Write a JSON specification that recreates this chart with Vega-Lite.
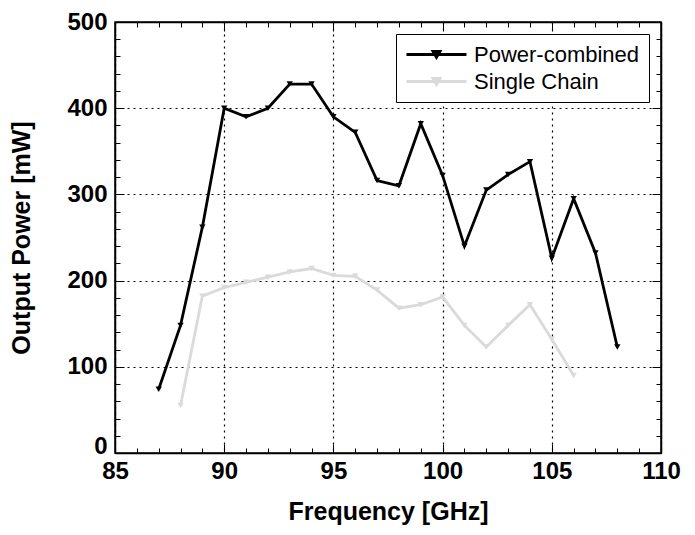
{
  "$schema": "https://vega.github.io/schema/vega-lite/v6.json",
  "width": 546,
  "height": 431,
  "autosize": {"type": "none"},
  "padding": {"left": 115, "top": 22, "right": 34, "bottom": 82},
  "background": "white",
  "config": {
    "view": {"stroke": "black", "strokeWidth": 1.5},
    "font": "Liberation Sans",
    "axis": {"labelFont": "Liberation Sans", "titleFont": "Liberation Sans"}
  },
  "data": {
    "values": [
      {"f": 87, "p": 74, "s": "Power-combined"},
      {"f": 88, "p": 148, "s": "Power-combined"},
      {"f": 89, "p": 262, "s": "Power-combined"},
      {"f": 90, "p": 400, "s": "Power-combined"},
      {"f": 91, "p": 390, "s": "Power-combined"},
      {"f": 92, "p": 400, "s": "Power-combined"},
      {"f": 93, "p": 428, "s": "Power-combined"},
      {"f": 94, "p": 428, "s": "Power-combined"},
      {"f": 95, "p": 390, "s": "Power-combined"},
      {"f": 96, "p": 372, "s": "Power-combined"},
      {"f": 97, "p": 316, "s": "Power-combined"},
      {"f": 98, "p": 310, "s": "Power-combined"},
      {"f": 99, "p": 382, "s": "Power-combined"},
      {"f": 100, "p": 322, "s": "Power-combined"},
      {"f": 101, "p": 240, "s": "Power-combined"},
      {"f": 102, "p": 305, "s": "Power-combined"},
      {"f": 103, "p": 323, "s": "Power-combined"},
      {"f": 104, "p": 338, "s": "Power-combined"},
      {"f": 105, "p": 226, "s": "Power-combined"},
      {"f": 106, "p": 295, "s": "Power-combined"},
      {"f": 107, "p": 232, "s": "Power-combined"},
      {"f": 108, "p": 123, "s": "Power-combined"},
      {"f": 88, "p": 55, "s": "Single Chain"},
      {"f": 89, "p": 182, "s": "Single Chain"},
      {"f": 90, "p": 192, "s": "Single Chain"},
      {"f": 91, "p": 198, "s": "Single Chain"},
      {"f": 92, "p": 204, "s": "Single Chain"},
      {"f": 93, "p": 210, "s": "Single Chain"},
      {"f": 94, "p": 214, "s": "Single Chain"},
      {"f": 95, "p": 206, "s": "Single Chain"},
      {"f": 96, "p": 205, "s": "Single Chain"},
      {"f": 97, "p": 189, "s": "Single Chain"},
      {"f": 98, "p": 168, "s": "Single Chain"},
      {"f": 99, "p": 172, "s": "Single Chain"},
      {"f": 100, "p": 181, "s": "Single Chain"},
      {"f": 101, "p": 148, "s": "Single Chain"},
      {"f": 102, "p": 123, "s": "Single Chain"},
      {"f": 103, "p": 148, "s": "Single Chain"},
      {"f": 104, "p": 172, "s": "Single Chain"},
      {"f": 105, "p": 132, "s": "Single Chain"},
      {"f": 106, "p": 90, "s": "Single Chain"}
    ]
  },
  "layer": [
    {
      "mark": {"type": "line", "strokeWidth": 2.8, "point": {"shape": "triangle-down", "size": 40, "filled": true}},
      "encoding": {
        "x": {
          "field": "f", "type": "quantitative",
          "scale": {"domain": [85, 110], "nice": false, "zero": false},
          "axis": {
            "title": "Frequency [GHz]",
            "titleFontSize": 25, "titleFontWeight": "bold", "titleColor": "black", "titlePadding": 12,
            "values": [85,86,87,88,89,90,91,92,93,94,95,96,97,98,99,100,101,102,103,104,105,106,107,108,109,110],
            "labelExpr": "datum.value % 5 === 0 ? datum.label : ''",
            "labelFontSize": 24, "labelFontWeight": "bold", "labelColor": "black", "labelPadding": 15,
            "labelFlush": false, "labelOverlap": false,
            "tickSize": {"expr": "datum.value % 5 === 0 ? -9 : -5"},
            "tickColor": "black", "tickWidth": 1,
            "domainColor": "black", "domainWidth": 1.5,
            "grid": true, "gridColor": "black", "gridDash": [2, 4], "gridWidth": 1.2,
            "gridOpacity": {"expr": "datum.value % 5 === 0 ? 1 : 0"}
          }
        },
        "y": {
          "field": "p", "type": "quantitative",
          "scale": {"domain": [0, 500], "nice": false},
          "axis": {
            "title": "Output Power [mW]",
            "titleFontSize": 25, "titleFontWeight": "bold", "titleColor": "black", "titlePadding": 32,
            "values": [0,20,40,60,80,100,120,140,160,180,200,220,240,260,280,300,320,340,360,380,400,420,440,460,480,500],
            "labelExpr": "datum.value % 100 === 0 ? datum.label : ''",
            "labelFontSize": 24, "labelFontWeight": "bold", "labelColor": "black", "labelPadding": 17,
            "labelBaseline": {"expr": "datum.value === 0 ? 'alphabetic' : 'middle'"},
            "labelFlush": false, "labelOverlap": false,
            "tickSize": {"expr": "datum.value % 100 === 0 ? -9 : -5"},
            "tickColor": "black", "tickWidth": 1,
            "domainColor": "black", "domainWidth": 1.5,
            "grid": true, "gridColor": "black", "gridDash": [2, 4], "gridWidth": 1.2,
            "gridOpacity": {"expr": "datum.value % 100 === 0 ? 1 : 0"}
          }
        },
        "color": {
          "field": "s", "type": "nominal",
          "scale": {"domain": ["Power-combined", "Single Chain"], "range": ["black", "#dadada"]},
          "legend": {
            "title": null, "orient": "top-right", "offset": 12,
            "labelFontSize": 22, "labelFont": "Liberation Sans", "labelColor": "black", "labelOffset": 26,
            "labelLimit": 400,
            "strokeColor": "black", "fillColor": "white", "padding": 9,
            "symbolOffset": 20,
            "symbolType": "M-3,0H3M-0.35,-0.3L0.35,-0.3L0,0.3Z", "symbolSize": 400, "symbolStrokeWidth": 2.8,
            "rowPadding": 4
          }
        }
      }
    },
    {
      "mark": {"type": "line", "opacity": 0},
      "encoding": {
        "x": {
          "field": "f", "type": "quantitative",
          "axis": {
            "orient": "top", "title": null, "labels": false,
            "values": [85,86,87,88,89,90,91,92,93,94,95,96,97,98,99,100,101,102,103,104,105,106,107,108,109,110],
            "tickSize": {"expr": "datum.value % 5 === 0 ? -9 : -5"},
            "tickColor": "black", "domainColor": "black", "domainWidth": 1.5, "grid": false
          }
        },
        "y": {
          "field": "p", "type": "quantitative",
          "axis": {
            "orient": "right", "title": null, "labels": false,
            "values": [0,20,40,60,80,100,120,140,160,180,200,220,240,260,280,300,320,340,360,380,400,420,440,460,480,500],
            "tickSize": {"expr": "datum.value % 100 === 0 ? -9 : -5"},
            "tickColor": "black", "domainColor": "black", "domainWidth": 1.5, "grid": false
          }
        },
        "detail": {"field": "s", "type": "nominal"}
      }
    }
  ],
  "resolve": {"axis": {"x": "independent", "y": "independent"}}
}
